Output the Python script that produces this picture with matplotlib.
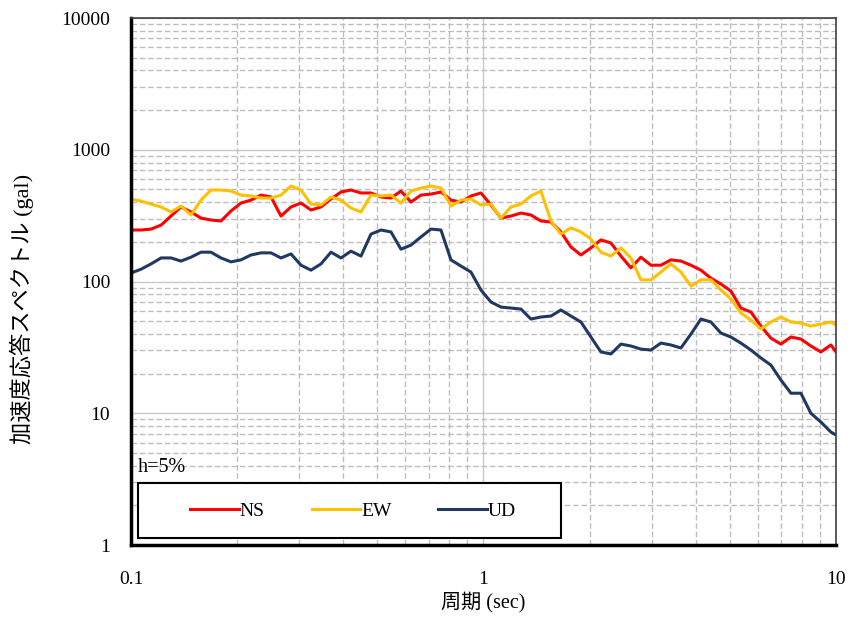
import numpy as np
import matplotlib
matplotlib.use("Agg")
import matplotlib.pyplot as plt
from matplotlib.patches import Rectangle
from matplotlib.ticker import LogLocator, FixedLocator, FuncFormatter, NullFormatter

# 周期 (sec)
period = [0.1, 0.1068, 0.1140, 0.1217, 0.1299, 0.1386, 0.1480, 0.1580, 0.1686, 0.1800,
          0.1922, 0.2051, 0.2190, 0.2338, 0.2496, 0.2664, 0.2844, 0.3036, 0.3241, 0.3459,
          0.3693, 0.3942, 0.4208, 0.4492, 0.4795, 0.5119, 0.5464, 0.5833, 0.6227, 0.6647,
          0.7095, 0.7574, 0.8085, 0.8631, 0.9213, 0.9835, 1.0499, 1.1207, 1.1963, 1.277,
          1.363, 1.455, 1.554, 1.658, 1.770, 1.890, 2.017, 2.153, 2.299, 2.454,
          2.619, 2.796, 2.985, 3.186, 3.401, 3.631, 3.876, 4.137, 4.417, 4.715,
          5.033, 5.372, 5.735, 6.122, 6.535, 6.976, 7.447, 7.950, 8.486, 9.059,
          9.670, 10.0]

# 加速度応答スペクトル (gal), h=5%
ns = [246, 246, 250, 268, 314, 368, 337, 303, 293, 288,
      343, 394, 415, 453, 438, 314, 368, 394, 349, 368,
      423, 478, 495, 470, 470, 438, 430, 486, 401, 453,
      461, 478, 415, 401, 446, 470, 381, 303, 314, 331,
      320, 288, 283, 238, 183, 159, 180, 207, 196, 156,
      127, 153, 133, 133, 146, 143, 133, 122, 106, 95.7,
      84.7, 62.9, 58.7, 45.9, 37.2, 33.5, 37.9, 36.6, 32.4, 29.2,
      33.0, 29.2]

ew = [423, 408, 387, 368, 337, 374, 320, 415, 495, 495,
      486, 453, 446, 430, 430, 453, 531, 495, 387, 381,
      438, 415, 361, 337, 453, 446, 453, 394, 486, 512,
      531, 512, 374, 415, 423, 381, 387, 303, 368, 387,
      446, 486, 288, 229, 255, 238, 210, 167, 156, 180,
      151, 103, 103, 118, 136, 118, 92.4, 103, 103, 86.2,
      73.7, 57.7, 51.0, 43.6, 49.3, 53.8, 49.3, 48.4, 45.9, 47.6,
      49.3, 46.7]

ud = [116, 124, 136, 151, 151, 143, 153, 167, 167, 151,
      141, 146, 159, 165, 165, 151, 162, 133, 122, 136,
      167, 151, 170, 156, 229, 246, 238, 176, 189, 218,
      250, 246, 146, 131, 118, 86.2, 69.9, 64.0, 62.9, 61.8,
      51.9, 53.8, 54.7, 60.8, 54.7, 49.3, 37.9, 29.2, 28.2, 33.5,
      32.4, 30.7, 30.2, 34.1, 33.0, 31.3, 39.9, 51.9, 49.3, 40.6,
      37.9, 34.1, 30.2, 26.3, 23.2, 17.9, 14.2, 14.2, 10.0, 8.58,
      7.20, 6.84]

series_names = ["NS", "EW", "UD"]
series_colors = ["#FF0000", "#FFC000", "#1F3864"]

plt.rcParams['font.family'] = ["Liberation Serif", "Noto Sans CJK JP", "DejaVu Sans"]

fig = plt.figure(figsize=(8.51, 6.19), dpi=100)
ax = fig.add_axes([0.1539, 0.1195, 0.8285, 0.8514])

for vals, name, col in zip([ns, ew, ud], series_names, series_colors):
    ax.plot(period, vals, color=col, lw=2.2, label=name, solid_joinstyle='round')

ax.set_xscale('log')
ax.set_yscale('log')
ax.set_xlim(0.1, 10)
ax.set_ylim(1, 10000)

ax.xaxis.set_major_locator(FixedLocator([0.1, 1, 10]))
ax.yaxis.set_major_locator(FixedLocator([1, 10, 100, 1000, 10000]))
fmt = FuncFormatter(lambda v, p: f"{v:g}")
ax.xaxis.set_major_formatter(fmt)
ax.yaxis.set_major_formatter(fmt)
ax.xaxis.set_minor_locator(LogLocator(base=10, subs=np.arange(2, 10)))
ax.yaxis.set_minor_locator(LogLocator(base=10, subs=np.arange(2, 10)))
ax.xaxis.set_minor_formatter(NullFormatter())
ax.yaxis.set_minor_formatter(NullFormatter())

ax.tick_params(which='both', length=0, labelsize=14)
ax.tick_params(axis='x', pad=19)
ax.tick_params(axis='y', pad=15)

ax.grid(which='major', color='#c8c8c8', lw=1.0, ls='-')
ax.grid(which='minor', color='#bdbdbd', lw=1.0, ls=(0, (4, 2)))
ax.set_axisbelow(True)

for s in ['left', 'bottom']:
    ax.spines[s].set_linewidth(2.5)
    ax.spines[s].set_color('black')
for s in ['top', 'right']:
    ax.spines[s].set_linewidth(1.2)
    ax.spines[s].set_color('#404040')

# axis titles
fig.text(483.5 / 851, 1 - 602 / 619, "周期 (sec)", fontsize=14.5,
         ha='center', va='center')
fig.text(22 / 851, 1 - 309 / 619, "加速度応答スペクトル (gal)", fontsize=16,
         rotation=90, ha='center', va='center')

ax.text(0.01, 0.148, "h=5%", transform=ax.transAxes, fontsize=14.5,
        va='center', ha='left')

# legend box
ax.add_patch(Rectangle((0.0099, 0.0133), 0.6, 0.1043, transform=ax.transAxes,
                       facecolor='white', edgecolor='black', lw=1.5, zorder=4))
leg = ax.legend(loc='center', bbox_to_anchor=(0.315, 0.0645), ncol=3,
                frameon=False, fontsize=14, handlelength=2.5, handletextpad=0.05,
                borderaxespad=0, columnspacing=2.4)
leg.set_zorder(5)
for line in leg.get_lines():
    line.set_linewidth(2.2)

fig.savefig("out.png", dpi=100)
